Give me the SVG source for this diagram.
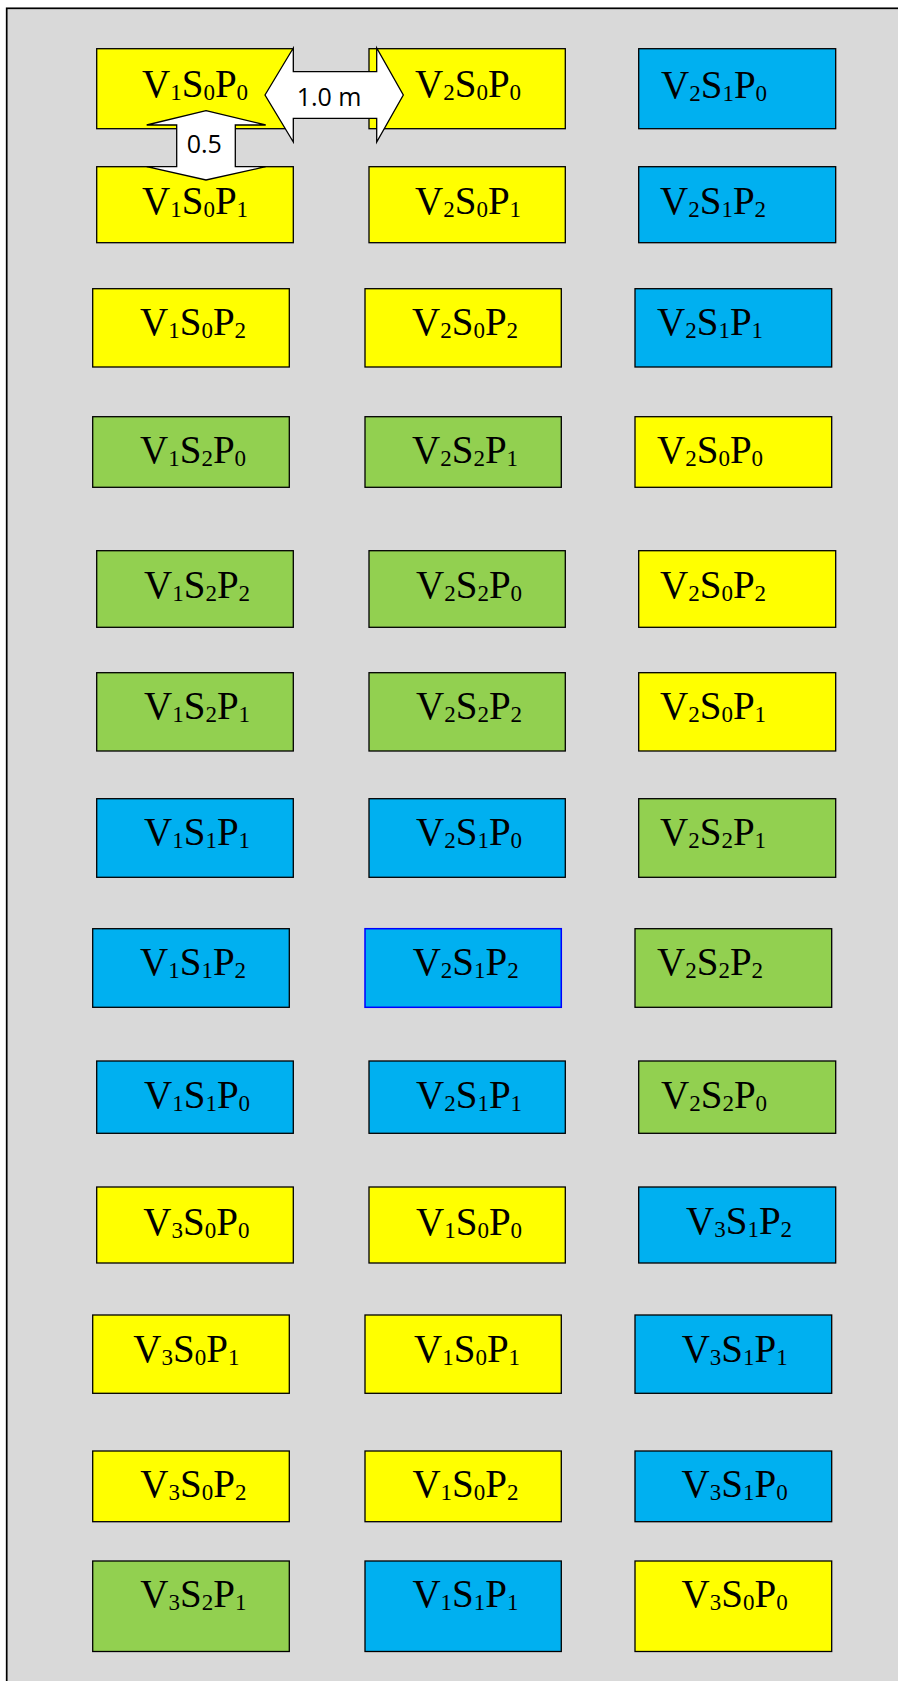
<svg xmlns="http://www.w3.org/2000/svg" width="898" height="1681" viewBox="0 0 898 1681">
<style>
.frame{fill:#D9D9D9;stroke:#000;stroke-width:1.7}
.box{stroke:#000;stroke-width:1.3}
.y{fill:#FFFF00}.b{fill:#00B0F0}.g{fill:#92D050}
.bl{stroke:#0000FF;stroke-width:1.5}
.t{font-family:"Liberation Serif","Times New Roman",serif;font-size:39px;fill:#000}
.s{font-size:23px}
.arr{fill:#fff;stroke:#000;stroke-width:1.3;stroke-linejoin:miter}
.at{font-family:"Open Sans","Noto Sans",sans-serif;font-size:25px;fill:#000}
</style>
<rect class="frame" x="6.7" y="8.3" width="900" height="1690"/>

<g id="r1a"><rect class="box y" x="96.7" y="48.7" width="196.6" height="80"/><text class="t" x="142" y="97">V<tspan class="s" dy="3">1</tspan><tspan dy="-3">S</tspan><tspan class="s" dy="3">0</tspan><tspan dy="-3">P</tspan><tspan class="s" dy="3">0</tspan></text></g>
<g id="r1b"><rect class="box y" x="369" y="48.7" width="196.3" height="80"/><text class="t" x="415" y="97">V<tspan class="s" dy="3">2</tspan><tspan dy="-3">S</tspan><tspan class="s" dy="3">0</tspan><tspan dy="-3">P</tspan><tspan class="s" dy="3">0</tspan></text></g>
<g id="r1c"><rect class="box b" x="638.7" y="48.7" width="197" height="80"/><text class="t" x="661" y="97.5">V<tspan class="s" dy="3">2</tspan><tspan dy="-3">S</tspan><tspan class="s" dy="3">1</tspan><tspan dy="-3">P</tspan><tspan class="s" dy="3">0</tspan></text></g>

<g id="r2a"><rect class="box y" x="96.7" y="166.7" width="196.6" height="76"/><text class="t" x="142" y="213.5">V<tspan class="s" dy="3">1</tspan><tspan dy="-3">S</tspan><tspan class="s" dy="3">0</tspan><tspan dy="-3">P</tspan><tspan class="s" dy="3">1</tspan></text></g>
<g id="r2b"><rect class="box y" x="369" y="166.7" width="196.3" height="76"/><text class="t" x="415" y="213.5">V<tspan class="s" dy="3">2</tspan><tspan dy="-3">S</tspan><tspan class="s" dy="3">0</tspan><tspan dy="-3">P</tspan><tspan class="s" dy="3">1</tspan></text></g>
<g id="r2c"><rect class="box b" x="638.7" y="166.7" width="197" height="76"/><text class="t" x="660" y="213.5">V<tspan class="s" dy="3">2</tspan><tspan dy="-3">S</tspan><tspan class="s" dy="3">1</tspan><tspan dy="-3">P</tspan><tspan class="s" dy="3">2</tspan></text></g>

<g id="r3a"><rect class="box y" x="92.7" y="288.7" width="196.6" height="78.3"/><text class="t" x="140" y="335">V<tspan class="s" dy="3">1</tspan><tspan dy="-3">S</tspan><tspan class="s" dy="3">0</tspan><tspan dy="-3">P</tspan><tspan class="s" dy="3">2</tspan></text></g>
<g id="r3b"><rect class="box y" x="365" y="288.7" width="196.3" height="78.3"/><text class="t" x="412" y="335">V<tspan class="s" dy="3">2</tspan><tspan dy="-3">S</tspan><tspan class="s" dy="3">0</tspan><tspan dy="-3">P</tspan><tspan class="s" dy="3">2</tspan></text></g>
<g id="r3c"><rect class="box b" x="635" y="288.7" width="196.7" height="78.3"/><text class="t" x="657" y="335">V<tspan class="s" dy="3">2</tspan><tspan dy="-3">S</tspan><tspan class="s" dy="3">1</tspan><tspan dy="-3">P</tspan><tspan class="s" dy="3">1</tspan></text></g>

<g id="r4a"><rect class="box g" x="92.7" y="416.7" width="196.6" height="70.6"/><text class="t" x="140" y="462.7">V<tspan class="s" dy="3">1</tspan><tspan dy="-3">S</tspan><tspan class="s" dy="3">2</tspan><tspan dy="-3">P</tspan><tspan class="s" dy="3">0</tspan></text></g>
<g id="r4b"><rect class="box g" x="365" y="416.7" width="196.3" height="70.6"/><text class="t" x="412" y="462.7">V<tspan class="s" dy="3">2</tspan><tspan dy="-3">S</tspan><tspan class="s" dy="3">2</tspan><tspan dy="-3">P</tspan><tspan class="s" dy="3">1</tspan></text></g>
<g id="r4c"><rect class="box y" x="635" y="416.7" width="196.7" height="70.6"/><text class="t" x="657" y="462.7">V<tspan class="s" dy="3">2</tspan><tspan dy="-3">S</tspan><tspan class="s" dy="3">0</tspan><tspan dy="-3">P</tspan><tspan class="s" dy="3">0</tspan></text></g>

<g id="r5a"><rect class="box g" x="96.7" y="550.7" width="196.6" height="76.6"/><text class="t" x="144" y="597.5">V<tspan class="s" dy="3">1</tspan><tspan dy="-3">S</tspan><tspan class="s" dy="3">2</tspan><tspan dy="-3">P</tspan><tspan class="s" dy="3">2</tspan></text></g>
<g id="r5b"><rect class="box g" x="369" y="550.7" width="196.3" height="76.6"/><text class="t" x="416" y="597.5">V<tspan class="s" dy="3">2</tspan><tspan dy="-3">S</tspan><tspan class="s" dy="3">2</tspan><tspan dy="-3">P</tspan><tspan class="s" dy="3">0</tspan></text></g>
<g id="r5c"><rect class="box y" x="638.7" y="550.7" width="197" height="76.6"/><text class="t" x="660" y="597.5">V<tspan class="s" dy="3">2</tspan><tspan dy="-3">S</tspan><tspan class="s" dy="3">0</tspan><tspan dy="-3">P</tspan><tspan class="s" dy="3">2</tspan></text></g>

<g id="r6a"><rect class="box g" x="96.7" y="672.7" width="196.6" height="78.3"/><text class="t" x="144" y="719">V<tspan class="s" dy="3">1</tspan><tspan dy="-3">S</tspan><tspan class="s" dy="3">2</tspan><tspan dy="-3">P</tspan><tspan class="s" dy="3">1</tspan></text></g>
<g id="r6b"><rect class="box g" x="369" y="672.7" width="196.3" height="78.3"/><text class="t" x="416" y="719">V<tspan class="s" dy="3">2</tspan><tspan dy="-3">S</tspan><tspan class="s" dy="3">2</tspan><tspan dy="-3">P</tspan><tspan class="s" dy="3">2</tspan></text></g>
<g id="r6c"><rect class="box y" x="638.7" y="672.7" width="197" height="78.3"/><text class="t" x="660" y="719">V<tspan class="s" dy="3">2</tspan><tspan dy="-3">S</tspan><tspan class="s" dy="3">0</tspan><tspan dy="-3">P</tspan><tspan class="s" dy="3">1</tspan></text></g>

<g id="r7a"><rect class="box b" x="96.7" y="798.7" width="196.6" height="78.6"/><text class="t" x="144" y="845">V<tspan class="s" dy="3">1</tspan><tspan dy="-3">S</tspan><tspan class="s" dy="3">1</tspan><tspan dy="-3">P</tspan><tspan class="s" dy="3">1</tspan></text></g>
<g id="r7b"><rect class="box b" x="369" y="798.7" width="196.3" height="78.6"/><text class="t" x="416" y="845">V<tspan class="s" dy="3">2</tspan><tspan dy="-3">S</tspan><tspan class="s" dy="3">1</tspan><tspan dy="-3">P</tspan><tspan class="s" dy="3">0</tspan></text></g>
<g id="r7c"><rect class="box g" x="638.7" y="798.7" width="197" height="78.6"/><text class="t" x="660" y="845">V<tspan class="s" dy="3">2</tspan><tspan dy="-3">S</tspan><tspan class="s" dy="3">2</tspan><tspan dy="-3">P</tspan><tspan class="s" dy="3">1</tspan></text></g>

<g id="r8a"><rect class="box b" x="92.7" y="928.7" width="196.6" height="78.6"/><text class="t" x="140" y="975">V<tspan class="s" dy="3">1</tspan><tspan dy="-3">S</tspan><tspan class="s" dy="3">1</tspan><tspan dy="-3">P</tspan><tspan class="s" dy="3">2</tspan></text></g>
<g id="r8b"><rect class="box b bl" x="365" y="928.7" width="196.3" height="78.6"/><text class="t" x="412.7" y="975">V<tspan class="s" dy="3">2</tspan><tspan dy="-3">S</tspan><tspan class="s" dy="3">1</tspan><tspan dy="-3">P</tspan><tspan class="s" dy="3">2</tspan></text></g>
<g id="r8c"><rect class="box g" x="635" y="928.7" width="196.7" height="78.6"/><text class="t" x="657" y="975">V<tspan class="s" dy="3">2</tspan><tspan dy="-3">S</tspan><tspan class="s" dy="3">2</tspan><tspan dy="-3">P</tspan><tspan class="s" dy="3">2</tspan></text></g>

<g id="r9a"><rect class="box b" x="96.7" y="1061" width="196.6" height="72.3"/><text class="t" x="144" y="1108">V<tspan class="s" dy="3">1</tspan><tspan dy="-3">S</tspan><tspan class="s" dy="3">1</tspan><tspan dy="-3">P</tspan><tspan class="s" dy="3">0</tspan></text></g>
<g id="r9b"><rect class="box b" x="369" y="1061" width="196.3" height="72.3"/><text class="t" x="416" y="1108">V<tspan class="s" dy="3">2</tspan><tspan dy="-3">S</tspan><tspan class="s" dy="3">1</tspan><tspan dy="-3">P</tspan><tspan class="s" dy="3">1</tspan></text></g>
<g id="r9c"><rect class="box g" x="638.7" y="1061" width="197" height="72.3"/><text class="t" x="661" y="1108">V<tspan class="s" dy="3">2</tspan><tspan dy="-3">S</tspan><tspan class="s" dy="3">2</tspan><tspan dy="-3">P</tspan><tspan class="s" dy="3">0</tspan></text></g>

<g id="r10a"><rect class="box y" x="96.7" y="1187" width="196.6" height="76"/><text class="t" x="143.3" y="1235">V<tspan class="s" dy="3">3</tspan><tspan dy="-3">S</tspan><tspan class="s" dy="3">0</tspan><tspan dy="-3">P</tspan><tspan class="s" dy="3">0</tspan></text></g>
<g id="r10b"><rect class="box y" x="369" y="1187" width="196.3" height="76"/><text class="t" x="416" y="1235">V<tspan class="s" dy="3">1</tspan><tspan dy="-3">S</tspan><tspan class="s" dy="3">0</tspan><tspan dy="-3">P</tspan><tspan class="s" dy="3">0</tspan></text></g>
<g id="r10c"><rect class="box b" x="638.7" y="1187" width="197" height="76"/><text class="t" x="686" y="1234">V<tspan class="s" dy="3">3</tspan><tspan dy="-3">S</tspan><tspan class="s" dy="3">1</tspan><tspan dy="-3">P</tspan><tspan class="s" dy="3">2</tspan></text></g>

<g id="r11a"><rect class="box y" x="92.7" y="1315" width="196.6" height="78.3"/><text class="t" x="133.3" y="1362">V<tspan class="s" dy="3">3</tspan><tspan dy="-3">S</tspan><tspan class="s" dy="3">0</tspan><tspan dy="-3">P</tspan><tspan class="s" dy="3">1</tspan></text></g>
<g id="r11b"><rect class="box y" x="365" y="1315" width="196.3" height="78.3"/><text class="t" x="414" y="1362">V<tspan class="s" dy="3">1</tspan><tspan dy="-3">S</tspan><tspan class="s" dy="3">0</tspan><tspan dy="-3">P</tspan><tspan class="s" dy="3">1</tspan></text></g>
<g id="r11c"><rect class="box b" x="635" y="1315" width="196.7" height="78.3"/><text class="t" x="681.7" y="1362">V<tspan class="s" dy="3">3</tspan><tspan dy="-3">S</tspan><tspan class="s" dy="3">1</tspan><tspan dy="-3">P</tspan><tspan class="s" dy="3">1</tspan></text></g>

<g id="r12a"><rect class="box y" x="92.7" y="1451" width="196.6" height="70.7"/><text class="t" x="140.3" y="1497">V<tspan class="s" dy="3">3</tspan><tspan dy="-3">S</tspan><tspan class="s" dy="3">0</tspan><tspan dy="-3">P</tspan><tspan class="s" dy="3">2</tspan></text></g>
<g id="r12b"><rect class="box y" x="365" y="1451" width="196.3" height="70.7"/><text class="t" x="412.4" y="1497">V<tspan class="s" dy="3">1</tspan><tspan dy="-3">S</tspan><tspan class="s" dy="3">0</tspan><tspan dy="-3">P</tspan><tspan class="s" dy="3">2</tspan></text></g>
<g id="r12c"><rect class="box b" x="635" y="1451" width="196.7" height="70.7"/><text class="t" x="681.6" y="1497">V<tspan class="s" dy="3">3</tspan><tspan dy="-3">S</tspan><tspan class="s" dy="3">1</tspan><tspan dy="-3">P</tspan><tspan class="s" dy="3">0</tspan></text></g>

<g id="r13a"><rect class="box g" x="92.7" y="1561" width="196.6" height="90.5"/><text class="t" x="140.3" y="1607">V<tspan class="s" dy="3">3</tspan><tspan dy="-3">S</tspan><tspan class="s" dy="3">2</tspan><tspan dy="-3">P</tspan><tspan class="s" dy="3">1</tspan></text></g>
<g id="r13b"><rect class="box b" x="365" y="1561" width="196.3" height="90.5"/><text class="t" x="412.4" y="1607">V<tspan class="s" dy="3">1</tspan><tspan dy="-3">S</tspan><tspan class="s" dy="3">1</tspan><tspan dy="-3">P</tspan><tspan class="s" dy="3">1</tspan></text></g>
<g id="r13c"><rect class="box y" x="635" y="1561" width="196.7" height="90.5"/><text class="t" x="681.6" y="1607">V<tspan class="s" dy="3">3</tspan><tspan dy="-3">S</tspan><tspan class="s" dy="3">0</tspan><tspan dy="-3">P</tspan><tspan class="s" dy="3">0</tspan></text></g>

<g id="dimensions">
<g id="dim-h"><polygon class="arr" points="265,95 293.3,48 293.3,71.7 376.7,71.7 376.7,48 403.3,95 376.7,142 376.7,118.3 293.3,118.3 293.3,142"/><text class="at" x="296.7" y="106">1.0 m</text></g>
<g id="dim-v"><polygon class="arr" points="206,110.7 265.7,125 235.3,125 235.3,166.7 265.7,166.7 206,180 146.7,166.7 176.7,166.7 176.7,125 146.7,125"/><text class="at" x="186.7" y="153.3">0.5</text></g>
</g>
</svg>
